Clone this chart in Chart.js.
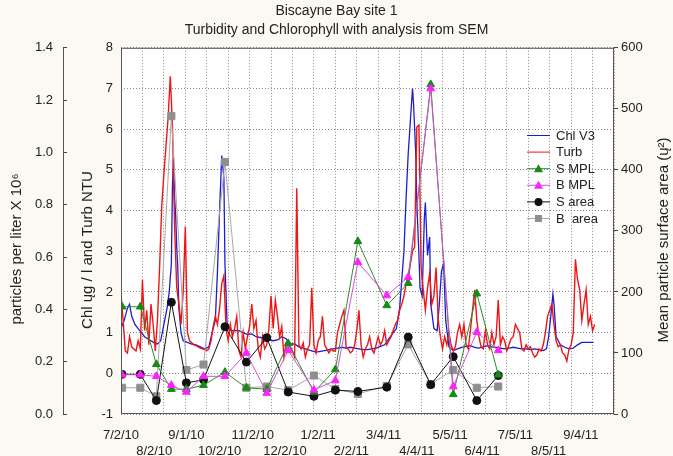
<!DOCTYPE html>
<html>
<head>
<meta charset="utf-8">
<script src="https://cdn.jsdelivr.net/npm/chart.js@4.4.0/dist/chart.umd.min.js"></script>
<style>
  html, body { margin: 0; padding: 0; background: #fbf9f1; }
</style>
</head>
<body>
<canvas id="chart" width="673" height="456"></canvas>
<script>
// x values are days since 7/2/10
const dateLabels = ['7/2/10', '8/2/10', '9/1/10', '10/2/10', '11/2/10', '12/2/10', '1/2/11', '2/2/11',
  '3/4/11', '4/4/11', '5/5/11', '6/4/11', '7/5/11', '8/5/11', '9/4/11'];
const labelDays = [0, 31, 61, 92, 123, 153, 184, 215, 245, 276, 307, 337, 368, 399, 429];
const partTicks = [0.0, 0.2, 0.4, 0.6, 0.8, 1.0, 1.2, 1.4];

// Chl V3 (ug/l) as [day, value]
const chl = [[0,1.1],[3,1.3],[6,1.6],[8,1.7],[10,1.4],[13,1.2],[16,1.1],[19,1.0],[22,0.9],[25,0.85],
  [28,0.8],[31,0.75],[34,0.72],[37,0.8],[40,1.2],[43,1.6],[45,2.0],[47,2.7],[48,4.6],[49,5.3],
  [50,4.3],[51,3.9],[52,3.1],[53,2.6],[54,1.6],[56,1.0],[58,0.8],[62,0.76],[66,0.72],[70,0.7],
  [74,0.65],[78,0.6],[82,0.65],[85,1.0],[88,1.3],[90,2.5],[92,4.0],[94,5.35],[96,4.8],[97,2.7],
  [99,1.2],[102,1.05],[106,1.05],[110,1.05],[114,1.0],[118,0.95],[122,0.97],[126,0.9],[130,0.88],
  [134,0.85],[138,0.82],[142,0.8],[146,0.82],[150,0.9],[154,0.85],[158,0.72],[162,0.72],[166,0.65],
  [170,0.62],[174,0.58],[178,0.55],[182,0.52],[186,0.54],[190,0.56],[194,0.58],[198,0.6],[202,0.62],
  [206,0.64],[210,0.62],[214,0.64],[218,0.62],[222,0.6],[226,0.58],[230,0.58],[234,0.6],[238,0.62],
  [242,0.66],[246,0.7],[250,0.85],[254,1.0],[257,1.1],[260,1.6],[262,2.3],[264,3.0],[266,4.3],
  [268,5.4],[270,6.2],[272,7.0],[273,6.6],[275,5.4],[276,4.2],[278,2.9],[279,2.1],[281,1.9],
  [283,3.8],[284,4.2],[286,2.9],[288,3.35],[289,1.7],[292,1.1],[295,1.05],[297,1.7],[299,2.5],
  [301,2.7],[303,1.3],[306,0.65],[310,0.56],[314,0.6],[318,0.64],[322,0.66],[326,0.68],[330,0.64],
  [334,0.62],[338,0.65],[342,0.68],[346,0.65],[350,0.64],[354,0.62],[358,0.6],[362,0.62],[366,0.64],
  [370,0.62],[374,0.6],[378,0.6],[382,0.58],[386,0.6],[390,0.58],[394,0.56],[397,0.6],[399,0.9],
  [401,1.4],[403,1.95],[404,1.7],[406,0.9],[410,0.7],[414,0.64],[418,0.6],[422,0.62],[426,0.7],
  [430,0.76],[434,0.76],[438,0.76],[441,0.76]];

// Turb (NTU), one reading every 2 days from day 0
const turbStep = 2;
const turb = [1.95,1.3,0.55,0.5,0.9,0.65,0.6,0.55,0.8,0.6,
  2.3,1.05,1.55,0.7,1.7,1.2,0.55,1.3,2.6,4.1,
  4.9,5.6,6.3,7.3,6.1,3.6,2.1,1.7,1.2,2.0,
  3.6,1.0,0.8,0.75,0.7,0.68,0.65,0.62,0.6,0.58,
  0.56,0.6,0.8,1.15,1.4,1.2,1.6,2.2,2.4,1.1,
  0.8,1.2,0.9,1.1,1.4,0.55,0.4,1.0,0.6,0.9,
  1.15,1.7,1.1,1.3,0.6,0.4,0.9,0.6,0.7,1.1,
  1.9,1.1,1.8,1.4,0.9,1.15,0.4,0.75,0.7,0.65,
  0.55,0.4,4.55,0.7,0.6,0.75,0.4,0.6,0.7,2.1,
  0.7,0.5,0.8,0.9,1.4,0.7,0.6,0.5,0.6,0.55,
  0.55,1.0,1.2,1.4,1.55,0.65,0.6,0.5,0.55,0.7,
  1.05,1.55,0.7,0.4,0.6,0.7,0.9,0.6,0.5,0.7,
  0.9,0.7,0.8,1.05,0.7,0.8,0.9,1.05,1.2,1.3,
  1.55,1.7,1.9,2.2,2.4,2.7,3.0,3.1,6.05,6.1,
  2.6,2.05,1.55,2.1,2.45,1.7,1.9,2.6,1.3,0.9,
  0.6,0.9,0.7,1.0,0.7,0.55,0.65,1.0,1.2,0.9,
  1.2,0.7,0.6,1.05,1.55,2.05,1.3,0.9,0.65,0.6,
  1.05,0.7,0.6,1.0,0.7,0.9,1.8,0.7,0.9,0.8,
  0.55,0.7,0.85,0.9,1.2,1.1,1.0,0.6,0.55,0.7,
  0.6,0.65,0.5,0.4,0.45,0.6,0.55,0.7,1.0,1.4,
  1.55,1.7,1.2,0.8,0.65,0.7,0.5,0.45,0.3,0.6,
  0.7,1.0,2.8,2.3,2.05,1.3,1.7,2.05,1.2,1.4,
  1.05,1.2];

// SEM samples
const sampleDays = [1, 18, 33, 47, 61, 77, 97, 117, 136, 156, 180, 200, 221, 248, 268, 289, 310, 332, 352];
const sMPL = [0.41, 0.41, 0.19, 0.095, 0.095, 0.11, 0.16, 0.10, 0.095, 0.27, 0.084, 0.17, 0.66, 0.415, 0.50, 1.26, 0.075, 0.46, 0.15];
const bMPL = [0.15, 0.15, 0.144, 0.11, 0.084, 0.144, 0.144, 0.233, 0.08, 0.243, 0.092, 0.128, 0.58, 0.453, 0.523, 1.244, 0.105, 0.313, 0.243];
const sArea = [65, 65, 22, 183, 51, 56, 143, 85, 125, 36, 29, 39, 37, 44, 126, 48, 94, 22, 63];
const bArea = [43, 43, 29, 488, 72, 81, 413, 43, 45, 39, 63, 41, 33, 46, 114, 49, 72, 43, 45];

const FONT = "'Liberation Sans', Arial, 'DejaVu Sans', sans-serif";
Chart.defaults.font.family = FONT;
Chart.defaults.color = '#222';

const pts = (days, vals) => days.map((d, i) => ({ x: d, y: vals[i] }));

function marker(ctx, style, x, y, fill) {
  ctx.fillStyle = fill;
  ctx.beginPath();
  if (style === 'triangle') {
    ctx.moveTo(x, y - 4.5); ctx.lineTo(x + 4.5, y + 3.5); ctx.lineTo(x - 4.5, y + 3.5); ctx.closePath();
  } else if (style === 'rect') {
    ctx.rect(x - 3.5, y - 3.5, 7, 7);
  } else {
    ctx.arc(x, y, 4, 0, Math.PI * 2);
  }
  ctx.fill();
}

const decor = {
  id: 'decor',
  beforeDraw(chart) {
    const { ctx, chartArea: a } = chart;
    ctx.save();
    ctx.fillStyle = '#fbf9f1';
    ctx.fillRect(0, 0, chart.width, chart.height);
    ctx.fillStyle = '#ffffff';
    ctx.fillRect(a.left, a.top, a.right - a.left, a.bottom - a.top);
    ctx.restore();
  },
  afterDraw(chart) {
    const { ctx, chartArea: a } = chart;
    ctx.save();
    ctx.strokeStyle = '#555';
    ctx.lineWidth = 1;
    ctx.strokeRect(a.left + 0.5, a.top + 0.5, a.right - a.left - 1, a.bottom - a.top - 1);
    // outer particles axis line
    const yp = chart.scales.yPart;
    ctx.beginPath();
    ctx.moveTo(yp.right - 4 + 0.5, a.top);
    ctx.lineTo(yp.right - 4 + 0.5, a.bottom);
    ctx.stroke();

    // axis titles, rotated to read bottom-up
    ctx.fillStyle = '#222';
    ctx.font = '15px ' + FONT;
    ctx.textAlign = 'center';
    ctx.textBaseline = 'middle';
    [['particles per liter X 10\u2076', 17, 249], ['Chl \u0173g / l and Turb NTU', 88, 250],
     ['Mean particle surface area (\u0173\u00b2)', 664, 240]].forEach(([t, x, y]) => {
      ctx.save(); ctx.translate(x, y); ctx.rotate(-Math.PI / 2); ctx.fillText(t, 0, 0); ctx.restore();
    });

    // legend inside the plot
    ctx.font = '13px ' + FONT;
    ctx.textAlign = 'left';
    chart.data.datasets.forEach((ds, i) => {
      const y = 135 + i * 16.6;
      ctx.strokeStyle = ds.borderColor;
      ctx.lineWidth = 1;
      ctx.beginPath(); ctx.moveTo(527, y + 0.5); ctx.lineTo(550, y + 0.5); ctx.stroke();
      if (ds.pointRadius) marker(ctx, ds.pointStyle, 538.5, y + 0.5, ds.pointBackgroundColor);
      ctx.fillStyle = '#222';
      ctx.fillText(ds.label, 556, y + 1);
    });
    ctx.restore();
  }
};

const gridColor = '#8a8a8a';

new Chart(document.getElementById('chart').getContext('2d'), {
  type: 'line',
  data: {
    datasets: [
      { label: 'Chl V3', data: chl.map(p => ({ x: p[0], y: p[1] })), yAxisID: 'yChl',
        borderColor: '#1c1cd0', borderWidth: 1.3, pointRadius: 0, order: 8 },
      { label: 'Turb', data: turb.map((v, i) => ({ x: i * turbStep, y: v })), yAxisID: 'yChl',
        borderColor: '#ee1515', borderWidth: 1.4, pointRadius: 0, order: 7 },
      { label: 'S MPL', data: pts(sampleDays, sMPL), yAxisID: 'yPart',
        borderColor: '#2f8a2f', borderWidth: 1, pointStyle: 'triangle', pointRadius: 4.5,
        pointBackgroundColor: '#178a17', pointBorderColor: '#178a17', order: 4 },
      { label: 'B MPL', data: pts(sampleDays, bMPL), yAxisID: 'yPart',
        borderColor: '#d850d8', borderWidth: 1, pointStyle: 'triangle', pointRadius: 4.5,
        pointBackgroundColor: '#ff20ff', pointBorderColor: '#ff20ff', order: 3 },
      { label: 'S area', data: pts(sampleDays, sArea), yAxisID: 'yArea',
        borderColor: '#111111', borderWidth: 1, pointStyle: 'circle', pointRadius: 4,
        pointBackgroundColor: '#111111', pointBorderColor: '#111111', order: 5 },
      { label: 'B  area', data: pts(sampleDays, bArea), yAxisID: 'yArea',
        borderColor: '#a8a8a8', borderWidth: 1, pointStyle: 'rect', pointRadius: 5,
        pointBackgroundColor: '#8f8f8f', pointBorderColor: '#8f8f8f', order: 6 }
    ]
  },
  options: {
    responsive: false,
    animation: false,
    events: [],
    layout: { padding: 0 },
    plugins: {
      legend: { display: false },
      tooltip: { enabled: false },
      title: {
        display: true,
        text: ['Biscayne Bay site 1', 'Turbidity and Chlorophyll with analysis from SEM'],
        color: '#222',
        font: { size: 14, weight: 'normal', lineHeight: 1.35 },
        padding: { top: 2, bottom: 8 }
      }
    },
    scales: {
      x: {
        type: 'linear', position: 'bottom', min: 0, max: 460,
        afterBuildTicks: s => { s.ticks = labelDays.map(v => ({ value: v })); },
        afterFit: s => { s.height = 42; },
        grid: { display: false }, border: { display: false },
        ticks: {
          autoSkip: false, maxRotation: 0, minRotation: 0, padding: 6,
          font: { size: 13, lineHeight: 1.2 },
          callback: (v, i) => (i % 2 ? ['', dateLabels[i]] : [dateLabels[i], ''])
        }
      },
      xg: {
        type: 'linear', position: 'bottom', min: 0, max: 460,
        afterFit: s => { s.height = 0; },
        ticks: { display: false, stepSize: 20 },
        grid: { color: gridColor, drawTicks: false },
        border: { display: false, dash: [1, 2] }
      },
      yChl: {
        type: 'linear', position: 'left', min: -1, max: 8, weight: 0,
        afterFit: s => { s.width = 54; },
        ticks: { stepSize: 1, padding: 8, font: { size: 13 } },
        grid: { color: gridColor, drawTicks: false },
        border: { display: false, dash: [1, 2] }
      },
      yPart: {
        type: 'linear', position: 'left', min: 0, max: 1.4, weight: 1,
        afterFit: s => { s.width = 67; },
        afterBuildTicks: s => { s.ticks = partTicks.map(v => ({ value: v })); },
        ticks: { padding: 10, font: { size: 13 }, callback: v => v.toFixed(1) },
        grid: { drawOnChartArea: false, tickLength: 4, color: '#444' },
        border: { display: false }
      },
      yArea: {
        type: 'linear', position: 'right', min: 0, max: 600,
        afterFit: s => { s.width = 59; },
        ticks: { stepSize: 100, padding: 3, font: { size: 13 } },
        grid: { drawOnChartArea: false, tickLength: 4, color: '#444' },
        border: { display: false }
      }
    }
  },
  plugins: [decor]
});
</script>
</body>
</html>
